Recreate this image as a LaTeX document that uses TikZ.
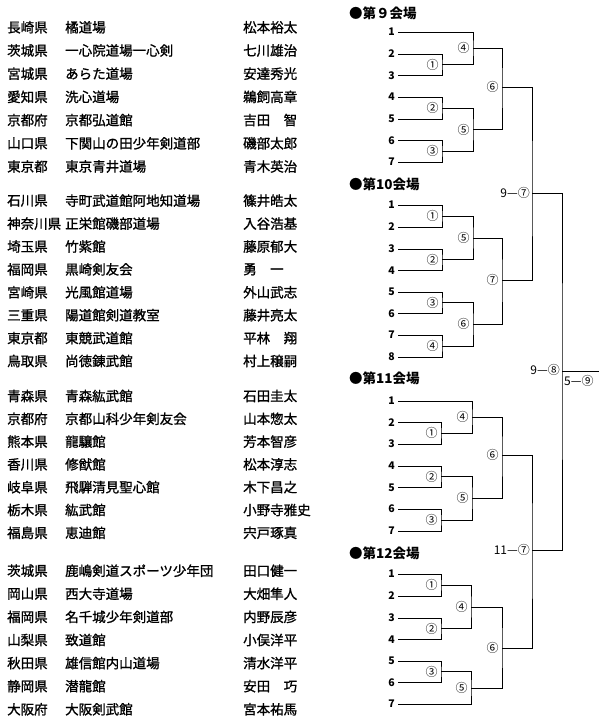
\documentclass[tikz,border=0pt]{standalone}
\usepackage{fontspec}
\setmainfont{Noto Sans CJK JP}
\newfontfamily\heavyfont{Noto Sans CJK JP}[FakeBold=1.2]
\newcommand\teamrow[5]{%
  \node[txt] (p#1) at (7,#2) {#3};
  \node[txt] (d#1) at (65,#2) {#4};
  \node[txt] (n#1) at (243,#2) {#5};}
\newcommand\seed[3]{%
  \node[num] (#1) at (395,#2) {#3};
  \coordinate (#1l) at (398,#2);}
\newcommand\bout[6]{%
  \coordinate (#1) at (#2,#3);
  \draw[br] (#4) -| (#1) |- (#5);
  \node[circ] (#1t) at (#2-9.5,#3) {#6};}
\begin{document}
\begin{tikzpicture}[x=1bp,y=-1bp,
  txt/.style={anchor=west,inner sep=0,font=\fontsize{13.5bp}{14bp}\heavyfont},
  num/.style={anchor=east,inner sep=0,font=\fontsize{10.5bp}{11bp}\selectfont\bfseries},
  ttl/.style={anchor=west,inner sep=0,font=\fontsize{13.5bp}{14bp}\selectfont\bfseries},
  circ/.style={inner sep=0,font=\fontsize{12bp}{12bp}\selectfont},
  score/.style={inner sep=0,font=\fontsize{12bp}{12bp}\selectfont},
  br/.style={line width=0.8bp}]
\useasboundingbox (0,0) rectangle (600,721);
% ---- team list
\teamrow{1}{27.3}{長崎県}{橘道場}{松本裕太}
\teamrow{2}{50.5}{茨城県}{一心院道場一心剣}{七川雄治}
\teamrow{3}{73.7}{宮城県}{あらた道場}{安達秀光}
\teamrow{4}{96.9}{愛知県}{洗心道場}{鵜飼高章}
\teamrow{5}{120.1}{京都府}{京都弘道館}{吉田　智}
\teamrow{6}{143.3}{山口県}{下関山の田少年剣道部}{磯部太郎}
\teamrow{7}{166.5}{東京都}{東京青井道場}{青木英治}
\teamrow{8}{200.7}{石川県}{寺町武道館阿地知道場}{篠井皓太}
\teamrow{9}{223.6}{神奈川県}{正栄館磯部道場}{入谷浩基}
\teamrow{10}{246.5}{埼玉県}{竹紫館}{藤原郁大}
\teamrow{11}{269.4}{福岡県}{黒崎剣友会}{勇　一}
\teamrow{12}{292.3}{宮崎県}{光風館道場}{外山武志}
\teamrow{13}{315.2}{三重県}{陽道館剣道教室}{藤井亮太}
\teamrow{14}{338.1}{東京都}{東競武道館}{平林　翔}
\teamrow{15}{361}{鳥取県}{尚徳錬武館}{村上穣嗣}
\teamrow{16}{396}{青森県}{青森紘武館}{石田圭太}
\teamrow{17}{418.8}{京都府}{京都山科少年剣友会}{山本惣太}
\teamrow{18}{441.6}{熊本県}{龍驤館}{芳本智彦}
\teamrow{19}{464.4}{香川県}{修猷館}{松本淳志}
\teamrow{20}{487.2}{岐阜県}{飛騨清見聖心館}{木下昌之}
\teamrow{21}{510}{栃木県}{紘武館}{小野寺雅史}
\teamrow{22}{532.8}{福島県}{恵迪館}{宍戸琢真}
\teamrow{23}{570.7}{茨城県}{鹿嶋剣道スポーツ少年団}{田口健一}
\teamrow{24}{593.8}{岡山県}{西大寺道場}{大畑隼人}
\teamrow{25}{616.9}{福岡県}{名千城少年剣道部}{内野辰彦}
\teamrow{26}{640}{山梨県}{致道館}{小俣洋平}
\teamrow{27}{663.1}{秋田県}{雄信館内山道場}{清水洋平}
\teamrow{28}{686.2}{静岡県}{潜龍館}{安田　巧}
\teamrow{29}{709.3}{大阪府}{大阪剣武館}{宮本祐馬}
% ---- titles
\node[ttl] (t9) at (349,13) {●第９会場};
\node[ttl] (t10) at (349,184) {●第10会場};
\node[ttl] (t11) at (349,378) {●第11会場};
\node[ttl] (t12) at (349,553) {●第12会場};
% ---- venue 9
\seed{v9s1}{32}{1}\seed{v9s2}{54}{2}\seed{v9s3}{75.5}{3}\seed{v9s4}{97}{4}
\seed{v9s5}{119}{5}\seed{v9s6}{140.5}{6}\seed{v9s7}{162}{7}
\bout{v9a1}{442}{64.75}{v9s2l}{v9s3l}{①}
\bout{v9a2}{442}{108}{v9s4l}{v9s5l}{②}
\bout{v9a3}{442}{151.25}{v9s6l}{v9s7l}{③}
\bout{v9a4}{473}{48}{v9s1l}{v9a1}{④}
\bout{v9a5}{473}{129.6}{v9a2}{v9a3}{⑤}
\bout{v9a6}{502}{87}{v9a4}{v9a5}{⑥}
% ---- venue 10
\seed{v10s1}{205}{1}\seed{v10s2}{227}{2}\seed{v10s3}{249}{3}\seed{v10s4}{270.5}{4}
\seed{v10s5}{292}{5}\seed{v10s6}{313.5}{6}\seed{v10s7}{335}{7}\seed{v10s8}{357}{8}
\bout{v10a1}{442}{216}{v10s1l}{v10s2l}{①}
\bout{v10a2}{442}{259.75}{v10s3l}{v10s4l}{②}
\bout{v10a3}{442}{302.75}{v10s5l}{v10s6l}{③}
\bout{v10a4}{442}{346}{v10s7l}{v10s8l}{④}
\bout{v10a5}{473}{238}{v10a1}{v10a2}{⑤}
\bout{v10a6}{473}{324}{v10a3}{v10a4}{⑥}
\bout{v10a7}{502}{280}{v10a5}{v10a6}{⑦}
% ---- venue 11
\seed{v11s1}{401}{1}\seed{v11s2}{422.5}{2}\seed{v11s3}{444}{3}\seed{v11s4}{466}{4}
\seed{v11s5}{487.5}{5}\seed{v11s6}{509}{6}\seed{v11s7}{531}{7}
\bout{v11a1}{441}{433}{v11s2l}{v11s3l}{①}
\bout{v11a2}{441}{476.75}{v11s4l}{v11s5l}{②}
\bout{v11a3}{441}{520}{v11s6l}{v11s7l}{③}
\bout{v11a4}{472}{417}{v11s1l}{v11a1}{④}
\bout{v11a5}{472}{498}{v11a2}{v11a3}{⑤}
\bout{v11a6}{502}{455}{v11a4}{v11a5}{⑥}
% ---- venue 12
\seed{v12s1}{574}{1}\seed{v12s2}{596}{2}\seed{v12s3}{618}{3}\seed{v12s4}{639.5}{4}
\seed{v12s5}{661}{5}\seed{v12s6}{682.5}{6}\seed{v12s7}{704}{7}
\bout{v12a1}{441}{585}{v12s1l}{v12s2l}{①}
\bout{v12a2}{441}{628.75}{v12s3l}{v12s4l}{②}
\bout{v12a3}{441}{671.75}{v12s5l}{v12s6l}{③}
\bout{v12a4}{471}{607}{v12a1}{v12a2}{④}
\bout{v12a5}{471}{688}{v12a3}{v12s7l}{⑤}
\bout{v12a6}{502}{648}{v12a4}{v12a5}{⑥}
% ---- finals
\coordinate (f1) at (532,193);
\draw[br] (v9a6) -| (f1) |- (v10a7);
\node[score,anchor=east] (f1t) at (530,193) {9—⑦};
\coordinate (f2) at (532,550);
\draw[br] (v11a6) -| (f2) |- (v12a6);
\node[score,anchor=east] (f2t) at (530,550) {11—⑦};
\coordinate (fin) at (562,371);
\draw[br] (f1) -| (fin) |- (f2);
\node[score,anchor=east] (fint) at (560,370) {9—⑧};
\coordinate (fend) at (599,371);
\draw[br] (fin) -- (fend);
\node[score,anchor=west] (endt) at (564,381) {5—⑨};
\end{tikzpicture}
\end{document}
